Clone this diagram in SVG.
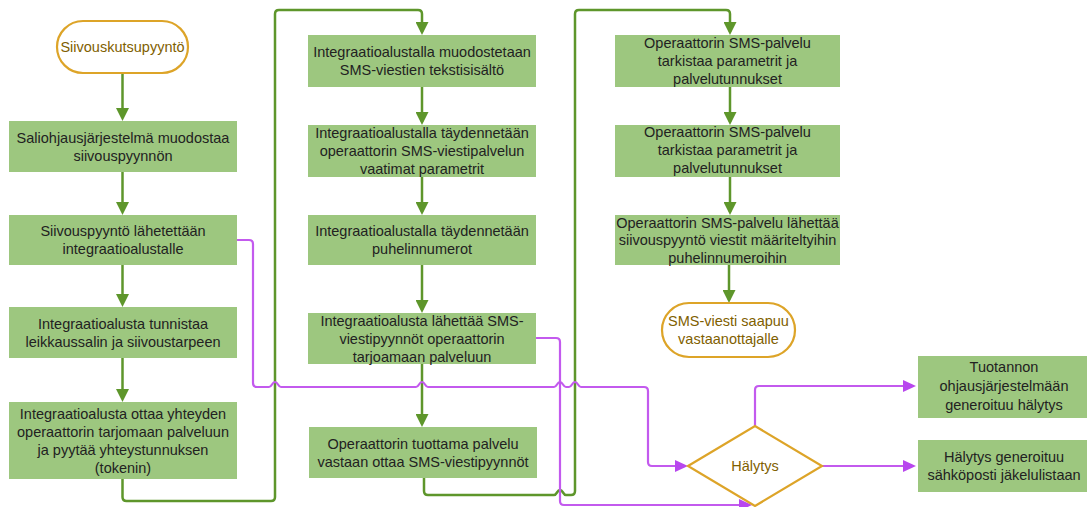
<svg xmlns="http://www.w3.org/2000/svg" width="1087" height="507" viewBox="0 0 1087 507">
<style>
.box{fill:#9DC77F;}
.term{fill:#FFFFFF;stroke:#DDA428;stroke-width:2.2;}
.dia{fill:#FFFFFF;stroke:#DDA428;stroke-width:2.2;}
text{font-family:"Liberation Sans",Arial,sans-serif;font-size:14.5px;text-anchor:middle;fill:#222222;}
text.tt{fill:#7F6000;}
.g{fill:none;stroke:#5E962B;stroke-width:2.5;marker-end:url(#ag);}
.gn{fill:none;stroke:#5E962B;stroke-width:2.5;}
.p{fill:none;stroke:#C35AEE;stroke-width:2.2;marker-end:url(#ap);}
</style>
<defs>
<marker id="ag" markerUnits="userSpaceOnUse" markerWidth="13" markerHeight="13" refX="10" refY="6.5" orient="auto"><path d="M0,0 L13,6.5 L0,13 z" fill="#5E962B"/></marker>
<marker id="ap" markerUnits="userSpaceOnUse" markerWidth="13" markerHeight="13" refX="10" refY="6.5" orient="auto"><path d="M0,0.5 L13,6.5 L0,12.5 z" fill="#B847EE"/></marker>
</defs>
<g id="connectors">
<path class="g" d="M122.5,73 V118"/>
<path class="g" d="M122.5,172 V212"/>
<path class="g" d="M122.5,265 V304"/>
<path class="g" d="M122.5,358 V399"/>
<path class="g" d="M122.5,479 V497 Q122.5,501 126.5,501 H271 Q275,501 275,497 V14 Q275,10 279,10 H418 Q422,10 422,14 V32"/>
<path class="g" d="M422,87 V122"/>
<path class="g" d="M422,177 V212"/>
<path class="g" d="M422,265 V310"/>
<path class="g" d="M422,364 V424"/>
<path class="gn" d="M424,478 V491 Q424,495 428,495 H554 C557,495 557,490 560,490 C563,490 563,495 566,495 H571 Q575,495 575,491 V14 Q575,10 579,10 H726 Q730,10 730,14 V32" marker-end="url(#ag)"/>
<path class="g" d="M730,87 V122"/>
<path class="g" d="M730,177 V212"/>
<path class="g" d="M729,265 V300"/>
<path class="p" d="M237,240 H249 Q253,240 253,244 V383 Q253,387 257,387 H269 C272,387 272,382 275,382 C278,382 278,387 281,387 H416 C419,387 419,382 422,382 C425,382 425,387 428,387 H554 C557,387 557,382 560,382 C563,382 563,387 566,387 H569 C572,387 572,382 575,382 C578,382 578,387 581,387 H644 Q648,387 648,391 V462 Q648,466 652,466 H685"/>
<path class="p" d="M536,338 H556 Q560,338 560,342 V501 Q560,505 564,505 H749"/>
<path class="p" d="M755,426 V390 Q755,386 759,386 H913"/>
<path class="p" d="M822,466 H913"/>
</g>
<g id="start">
<rect class="term" x="57" y="21" width="131" height="52" rx="26"/>
<text class="tt" x="122.5" y="52">Siivouskutsupyyntö</text>
</g>
<g id="b1">
<rect class="box" x="9" y="121" width="228" height="51"/>
<text x="123" y="142.5">Saliohjausjärjestelmä muodostaa</text>
<text x="123" y="160.5">siivouspyynnön</text>
</g>
<g id="b2">
<rect class="box" x="9" y="215" width="228" height="50"/>
<text x="123" y="236">Siivouspyyntö lähetettään</text>
<text x="123" y="254">integraatioalustalle</text>
</g>
<g id="b3">
<rect class="box" x="9" y="307" width="228" height="51"/>
<text x="123" y="328.5">Integraatioalusta tunnistaa</text>
<text x="123" y="346.5">leikkaussalin ja siivoustarpeen</text>
</g>
<g id="b4">
<rect class="box" x="9" y="402" width="228" height="77"/>
<text x="123" y="418.5">Integraatioalusta ottaa yhteyden</text>
<text x="123" y="436.5">operaattorin tarjomaan palveluun</text>
<text x="123" y="454.5">ja pyytää yhteystunnuksen</text>
<text x="123" y="472.5">(tokenin)</text>
</g>
<g id="c1">
<rect class="box" x="308" y="35" width="228" height="52"/>
<text x="422" y="57">Integraatioalustalla muodostetaan</text>
<text x="422" y="75">SMS-viestien tekstisisältö</text>
</g>
<g id="c2">
<rect class="box" x="308" y="125" width="228" height="52"/>
<text x="422" y="138">Integraatioalustalla täydennetään</text>
<text x="422" y="156">operaattorin SMS-viestipalvelun</text>
<text x="422" y="174">vaatimat parametrit</text>
</g>
<g id="c3">
<rect class="box" x="308" y="215" width="228" height="50"/>
<text x="422" y="236">Integraatioalustalla täydennetään</text>
<text x="422" y="254">puhelinnumerot</text>
</g>
<g id="c4">
<rect class="box" x="308" y="313" width="228" height="51"/>
<text x="422" y="325.5">Integraatioalusta lähettää SMS-</text>
<text x="422" y="343.5">viestipyynnöt operaattorin</text>
<text x="422" y="361.5">tarjoamaan palveluun</text>
</g>
<g id="c5">
<rect class="box" x="309" y="427" width="228" height="51"/>
<text x="423" y="448.5">Operaattorin tuottama palvelu</text>
<text x="423" y="466.5">vastaan ottaa SMS-viestipyynnöt</text>
</g>
<g id="d1">
<rect class="box" x="615" y="35" width="225" height="52"/>
<text x="727.5" y="48">Operaattorin SMS-palvelu</text>
<text x="727.5" y="66">tarkistaa parametrit ja</text>
<text x="727.5" y="84">palvelutunnukset</text>
</g>
<g id="d2">
<rect class="box" x="615" y="125" width="225" height="52"/>
<text x="727.5" y="137">Operaattorin SMS-palvelu</text>
<text x="727.5" y="155">tarkistaa parametrit ja</text>
<text x="727.5" y="173">palvelutunnukset</text>
</g>
<g id="d3">
<rect class="box" x="615" y="215" width="225" height="50"/>
<text x="727.5" y="227.5">Operaattorin SMS-palvelu lähettää</text>
<text x="727.5" y="245">siivouspyyntö viestit määriteltyihin</text>
<text x="727.5" y="262.5">puhelinnumeroihin</text>
</g>
<g id="end">
<rect class="term" x="662" y="303" width="133" height="54" rx="27"/>
<text class="tt" x="728.5" y="326">SMS-viesti saapuu</text>
<text class="tt" x="728.5" y="344">vastaanottajalle</text>
</g>
<g id="alarm">
<polygon class="dia" points="688,466 755,426 822,466 755,506"/>
<text class="tt" x="755" y="471">Hälytys</text>
</g>
<g id="r1">
<rect class="box" x="918" y="356" width="169" height="62"/>
<text x="1004" y="372">Tuotannon</text>
<text x="1004" y="391">ohjausjärjestelmään</text>
<text x="1004" y="410">generoituu hälytys</text>
</g>
<g id="r2">
<rect class="box" x="918" y="440" width="169" height="52"/>
<text x="1004" y="462">Hälytys generoituu</text>
<text x="1004" y="480">sähköposti jäkelulistaan</text>
</g>
</svg>
